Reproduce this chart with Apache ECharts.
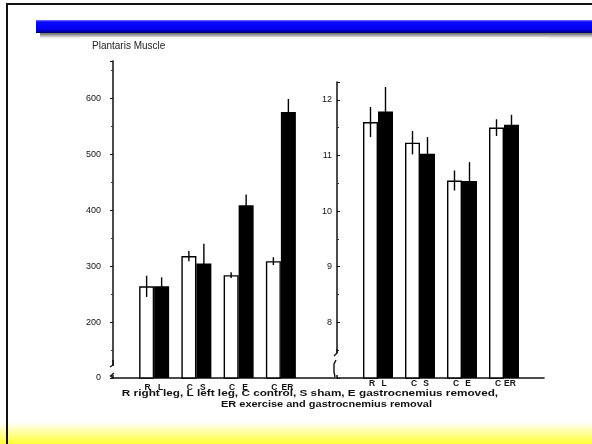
<!DOCTYPE html>
<html>
<head>
<meta charset="utf-8">
<script src="https://cdn.jsdelivr.net/npm/echarts@6/dist/echarts.min.js"></script>
<style>
html,body{margin:0;padding:0;background:#fff;}
#chart{width:592px;height:444px;}
</style>
</head>
<body>
<div id="chart"></div>
<script>
// ---- data ----
const categories = ['R L', 'C S', 'C E', 'C ER'];

// left panel: plantaris muscle weight
const weightWhite    = [264, 318, 284, 309];
const weightWhiteErr = [19, 9, 5, 7];
const weightBlack    = [264, 305, 409, 576];
const weightBlackErr = [16, 35, 19, 23];

// right panel
const ratioWhite    = [11.60, 11.23, 10.55, 11.50];
const ratioWhiteErr = [0.27, 0.21, 0.18, 0.15];
const ratioBlack    = [11.79, 11.03, 10.54, 11.55];
const ratioBlackErr = [0.44, 0.30, 0.34, 0.18];

// tick labels (broken axes: bottom tick stands for the axis origin)
const leftTickValues  = [100, 200, 300, 400, 500, 600];
const leftTickLabels  = ['0', '200', '300', '400', '500', '600'];
const rightTickValues = [7, 8, 9, 10, 11, 12];
const rightTickLabels = ['', '8', '9', '10', '11', '12'];

const titleText = 'Plantaris Muscle';
const captionLine1 = 'R right leg, L left leg, C control, S sham, E gastrocnemius removed,';
const captionLine2 = 'ER exercise and gastrocnemius removal';

// ---- chart ----
const chart = echarts.init(document.getElementById('chart'), null, {renderer: 'canvas'});
const BW = 15;
const font = 'Liberation Sans, Arial, sans-serif';

function errSeries(gridIdx, vals, errs, side) {
  return {
    type: 'custom',
    xAxisIndex: gridIdx, yAxisIndex: gridIdx,
    z: 5,
    data: vals.map((v, i) => [i, v, errs[i]]),
    renderItem: function (params, api) {
      const c = api.coord([api.value(0), api.value(1)]);
      const t = api.coord([api.value(0), api.value(1) + api.value(2)]);
      const b = api.coord([api.value(0), api.value(1) - api.value(2)]);
      const x = c[0] + side * BW / 2;
      return {
        type: 'line',
        shape: {x1: x, y1: t[1], x2: x, y2: b[1]},
        style: {stroke: '#000', lineWidth: 1.4}
      };
    }
  };
}

function catAxis(gridIdx, margin, w) {
  return {
    type: 'category', gridIndex: gridIdx, data: categories,
    axisLine: {show: false}, axisTick: {show: false},
    axisLabel: {
      interval: 0,
      margin: margin,
      formatter: function (v) {
        const p = v.split(' ');
        return '{a|' + p[0] + '}{a|' + p[1] + '}';
      },
      rich: {a: {width: w, align: 'center', fontSize: 8.5, fontWeight: 'bold', fontFamily: font, color: '#111'}}
    }
  };
}

const option = {
  animation: false,
  backgroundColor: '#fff',
  title: [
    {text: titleText, left: 92, top: 41, padding: 0,
     textStyle: {fontSize: 10, fontWeight: 'normal', fontFamily: font, color: '#222'}}
  ],
  grid: [
    {left: 133, width: 169, top: 61, bottom: 66},
    {left: 357, width: 168, top: 82, bottom: 66},
    {left: 113, width: 431, top: 61, bottom: 66}
  ],
  xAxis: [
    catAxis(0, 5, 13),
    catAxis(1, 1, 12),
    {type: 'value', gridIndex: 2, min: 0, max: 1,
     axisLine: {show: true, lineStyle: {color: '#111', width: 1.6}},
     axisTick: {show: false}, axisLabel: {show: false}, splitLine: {show: false}}
  ],
  yAxis: [
    {type: 'value', gridIndex: 0, min: 100, max: 667, interval: 100, offset: 20,
     axisLine: {show: true, lineStyle: {color: '#111', width: 1.5}},
     axisTick: {show: true, length: 3, lineStyle: {color: '#111'}},
     minorTick: {show: true, splitNumber: 2, length: 2, lineStyle: {color: '#333'}},
     splitLine: {show: false},
     axisLabel: {margin: 12, fontSize: 9, fontFamily: font, color: '#111',
       formatter: v => { const k = leftTickValues.indexOf(v); return k >= 0 ? leftTickLabels[k] : ''; }}},
    {type: 'value', gridIndex: 1, min: 7, max: 12.32, interval: 1, offset: 20,
     axisLine: {show: true, lineStyle: {color: '#111', width: 1.5}},
     axisTick: {show: true, inside: true, length: 3, lineStyle: {color: '#111'}},
     minorTick: {show: true, splitNumber: 2, length: 2, lineStyle: {color: '#333'}},
     splitLine: {show: false},
     axisLabel: {margin: 5, fontSize: 9, fontFamily: font, color: '#111',
       formatter: v => { const k = rightTickValues.indexOf(v); return k >= 0 ? rightTickLabels[k] : ''; }}},
    {type: 'value', gridIndex: 2, show: false}
  ],
  series: [
    {type: 'bar', xAxisIndex: 0, yAxisIndex: 0, data: weightWhite, barWidth: BW, barGap: '0%',
     itemStyle: {color: '#fff', borderColor: '#000', borderWidth: 1.4}},
    {type: 'bar', xAxisIndex: 0, yAxisIndex: 0, data: weightBlack, barWidth: BW, barGap: '0%',
     itemStyle: {color: '#000'}},
    {type: 'bar', xAxisIndex: 1, yAxisIndex: 1, data: ratioWhite, barWidth: BW, barGap: '0%',
     itemStyle: {color: '#fff', borderColor: '#000', borderWidth: 1.4}},
    {type: 'bar', xAxisIndex: 1, yAxisIndex: 1, data: ratioBlack, barWidth: BW, barGap: '0%',
     itemStyle: {color: '#000'}},
    errSeries(0, weightWhite, weightWhiteErr, -1),
    errSeries(0, weightBlack, weightBlackErr, 1),
    errSeries(1, ratioWhite, ratioWhiteErr, -1),
    errSeries(1, ratioBlack, ratioBlackErr, 1)
  ],
  graphic: [
    // slide decoration
    {type: 'rect', z: -20, shape: {x: 0, y: 422, width: 592, height: 22},
     style: {fill: new echarts.graphic.LinearGradient(0, 0, 0, 1, [
       {offset: 0, color: 'rgba(255,255,60,0)'}, {offset: 1, color: '#ffff30'}])}},
    {type: 'rect', z: -20, shape: {x: 40, y: 30, width: 552, height: 10},
     style: {fill: new echarts.graphic.LinearGradient(0, 0, 0, 1, [
       {offset: 0, color: '#333'}, {offset: 0.5, color: '#999'}, {offset: 1, color: 'rgba(255,255,255,0)'}])}},
    {type: 'rect', z: -19, shape: {x: 36, y: 20, width: 556, height: 13},
     style: {fill: new echarts.graphic.LinearGradient(0, 0, 0, 1, [
       {offset: 0, color: '#8080ff'}, {offset: 0.15, color: '#0a0aff'}, {offset: 0.65, color: '#0000f5'},
       {offset: 0.88, color: '#0000b0'}, {offset: 1, color: '#000050'}])}},
    {type: 'rect', z: -18, shape: {x: 80, y: 37.5, width: 469, height: 30}, style: {fill: '#fff'}},
    {type: 'line', z: 50, shape: {x1: 6, y1: 4, x2: 592, y2: 4}, style: {stroke: '#111', lineWidth: 2}},
    {type: 'line', z: 50, shape: {x1: 7, y1: 3, x2: 7, y2: 444}, style: {stroke: '#111', lineWidth: 2}},
    // axis breaks
    {type: 'rect', z: 50, shape: {x: 110, y: 366, width: 6, height: 9}, style: {fill: '#fff'}},
    {type: 'polyline', z: 51, shape: {points: [[113, 360], [113, 365], [110, 367]]}, style: {stroke: '#111', lineWidth: 1.4, fill: null}},
    {type: 'polyline', z: 51, shape: {points: [[114, 373], [110.5, 376], [113, 378]]}, style: {stroke: '#111', lineWidth: 1.4, fill: null}},
    {type: 'rect', z: 50, shape: {x: 334, y: 353, width: 6, height: 22}, style: {fill: '#fff'}},
    {type: 'polyline', z: 51, shape: {points: [[337, 349], [337, 353], [334, 356]]}, style: {stroke: '#111', lineWidth: 1.4, fill: null}},
    {type: 'polyline', z: 51, shape: {points: [[336, 360], [334, 364], [334, 372], [335, 377]]}, style: {stroke: '#111', lineWidth: 1.4, fill: null}},
    // caption
    {type: 'text', z: 50, x: 310, y: 393.5, scaleX: 1.2,
     style: {text: captionLine1, fontSize: 9.8, fontWeight: 'bold', fontFamily: font, fill: '#111',
             textAlign: 'center', textVerticalAlign: 'middle'}},
    {type: 'text', z: 50, x: 326.5, y: 404, scaleX: 1.12,
     style: {text: captionLine2, fontSize: 9.8, fontWeight: 'bold', fontFamily: font, fill: '#111',
             textAlign: 'center', textVerticalAlign: 'middle'}}
  ]
};
chart.setOption(option);
</script>
</body>
</html>
